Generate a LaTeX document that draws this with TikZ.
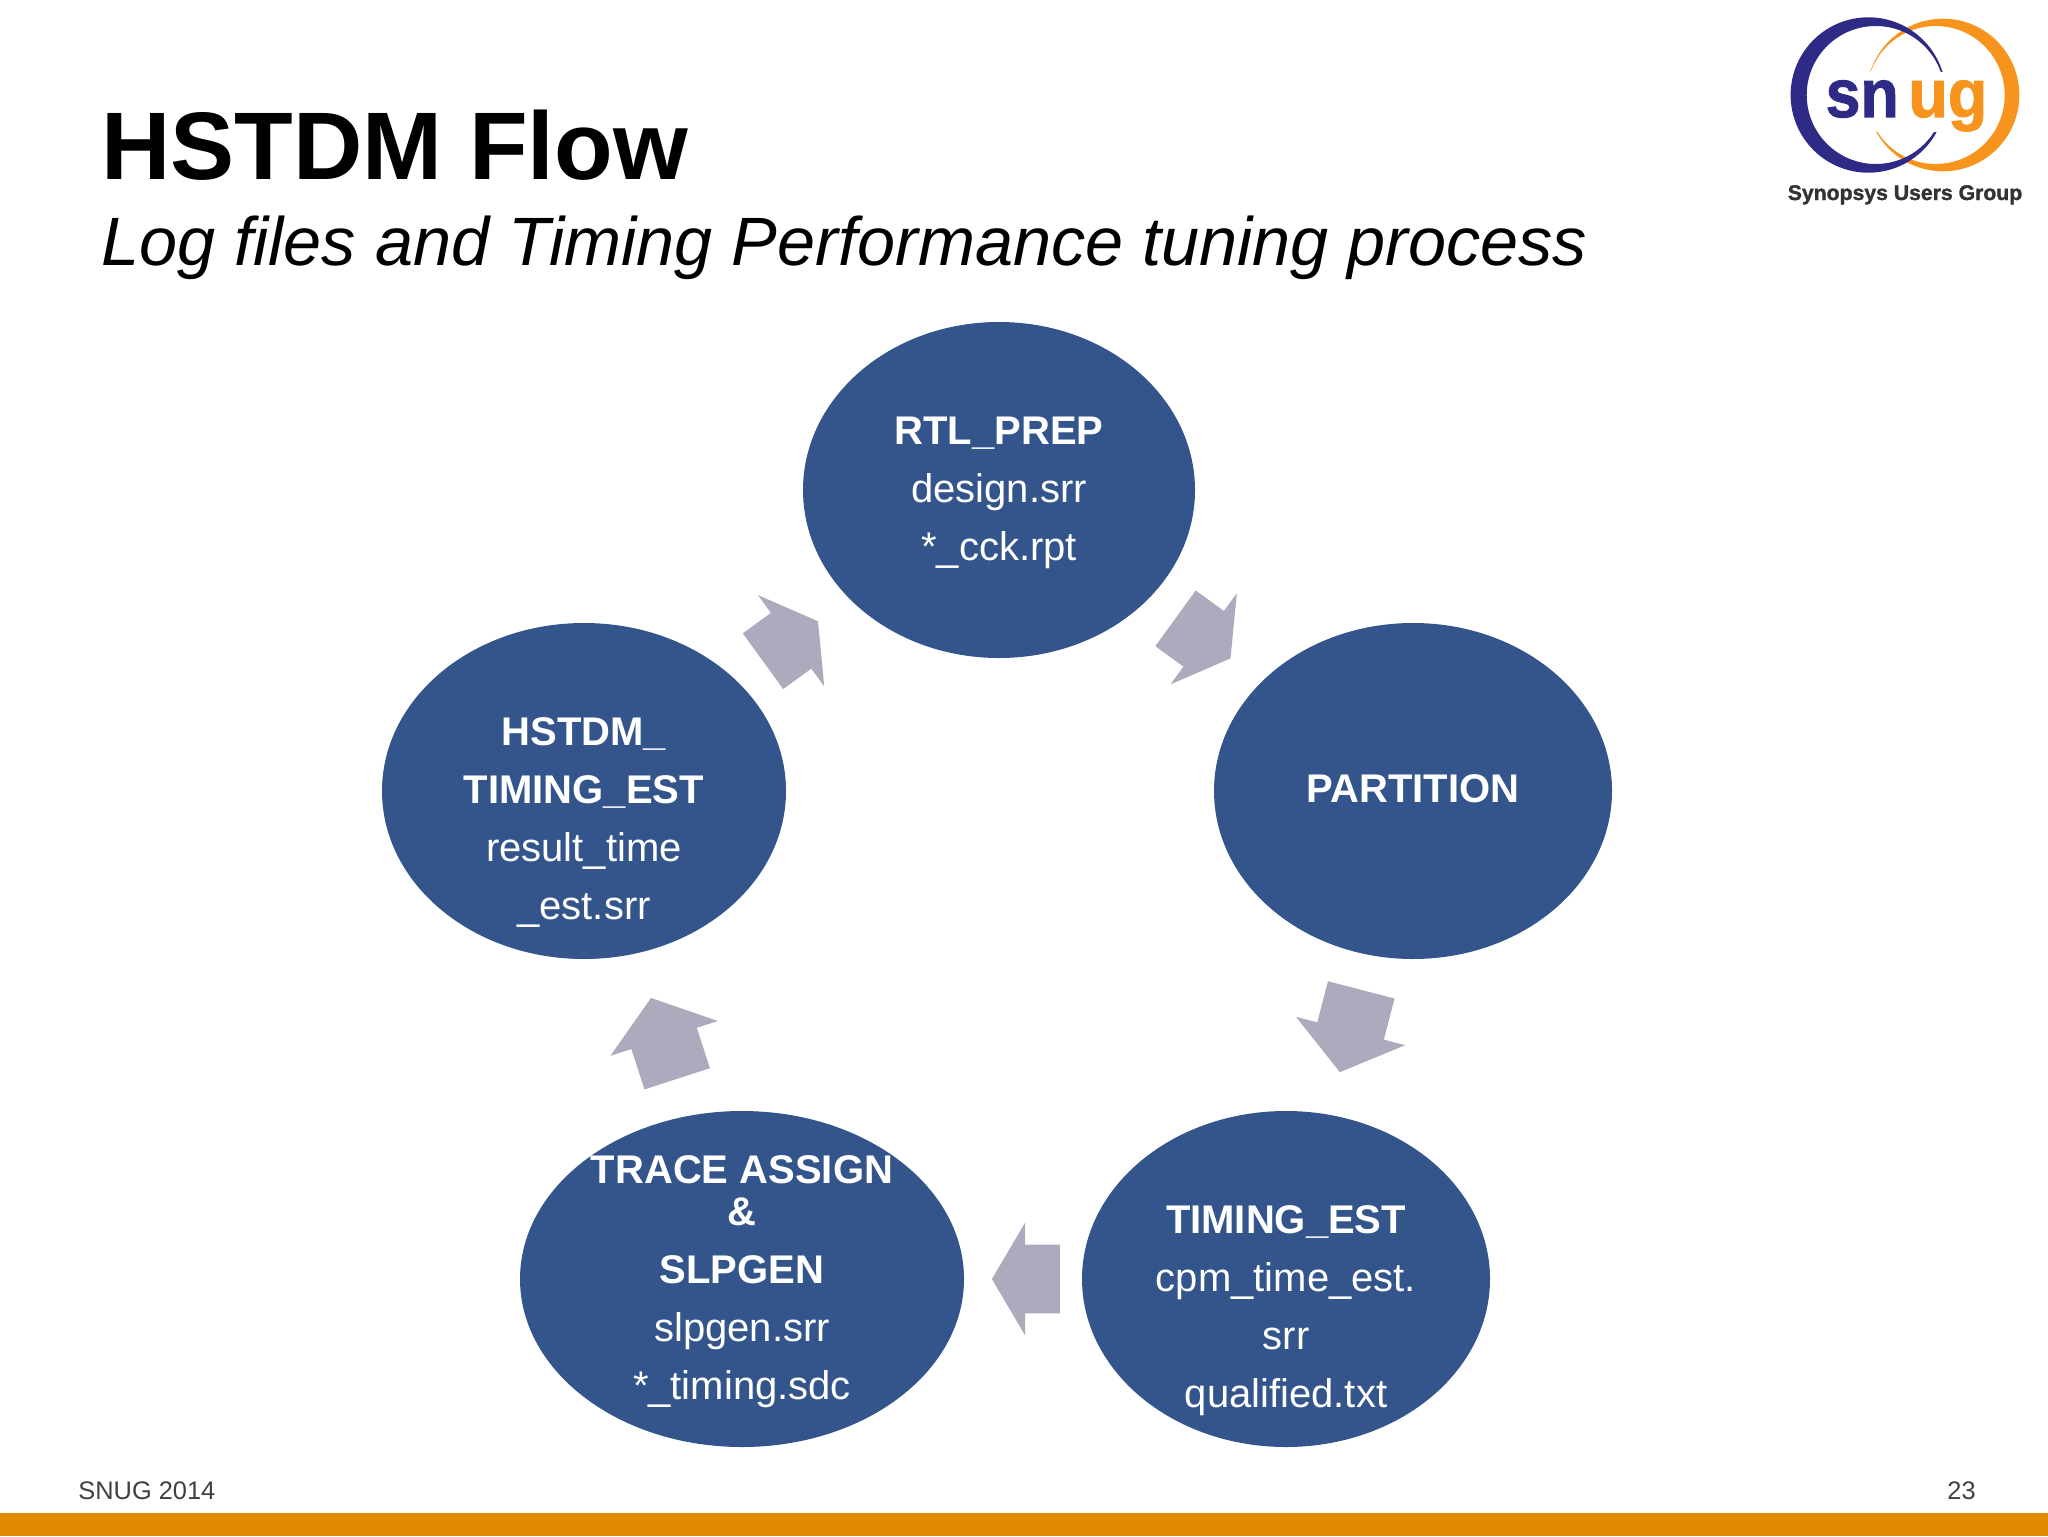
\documentclass[tikz,border=0pt]{standalone}
\usepackage{fontspec}
\setmainfont{Liberation Sans}
\newfontfamily\snugfont[UprightFont=* Bold,FakeBold=1.5]{Liberation Sans}
\usetikzlibrary{shapes.geometric,shapes.arrows}
\definecolor{flowblue}{HTML}{33558B}
\definecolor{flowgrey}{HTML}{ACABBD}
\definecolor{barorange}{HTML}{DF8A00}
\definecolor{snugblue}{HTML}{2E2A85}
\definecolor{snugorange}{HTML}{F7941E}
\tikzset{
	flowellipse/.style={ellipse, fill=flowblue, inner sep=0pt, minimum height=168pt},
	flowtext/.style={text=white, align=center, inner sep=0pt, yshift=-1.3pt, font=\fontsize{20}{28.9}\selectfont},
	flowarrow/.style={single arrow, fill=flowgrey, inner xsep=0pt, inner ysep=17pt, sloped, allow upside down,
		xshift=-6.5pt, minimum height=34pt, single arrow head extend=11pt,
		single arrow tip angle=119, single arrow head indent=0pt},
	longarrow/.style={flowarrow, xshift=-2pt, minimum height=42.5pt, single arrow tip angle=106},
}
\begin{document}
\begin{tikzpicture}[x=0.5pt,y=-0.5pt]
\useasboundingbox (0,0) rectangle (2048,1536);
\fill[barorange] (0,1513) rectangle (2048,1536);

\node[anchor=base west, inner sep=0pt, font=\fontsize{48}{50}\selectfont\bfseries] (title) at (101,179.5) {HSTDM Flow};
\node[anchor=base west, inner sep=0pt, font=\fontsize{34.2}{36}\selectfont\itshape] (subtitle) at (101,265) {Log files and Timing Performance tuning process};
\node[anchor=base west, inner sep=0pt, text=black!75, font=\fontsize{12.7}{13}\selectfont] (footer) at (78,1499) {SNUG 2014};
\node[anchor=base east, inner sep=0pt, text=black!75, font=\fontsize{12.7}{13}\selectfont] (pagenum) at (1976,1499) {23};

% logo
\fill[snugorange, even odd rule] (1943,95) circle [radius=76.3] (1935.7,95) circle [radius=69];
\fill[snugblue, even odd rule] (1868.3,95) circle [radius=77.7] (1875.7,95) circle [radius=69];
\fill[white] (1863,72) rectangle (1947,132);
\node[anchor=base east, inner sep=0pt, xscale=.92, text=snugblue, font=\fontsize{34}{36}\snugfont] (snugleft) at (1899,117) {sn};
\node[anchor=base west, inner sep=0pt, xscale=.95, text=snugorange, font=\fontsize{34}{36}\snugfont] (snugright) at (1908,117) {ug};
\node[anchor=base, inner sep=0pt, text=black!80, font=\fontsize{10.6}{11}\snugfont] (snugname) at (1905,200) {Synopsys Users Group};

% flow
\node[flowellipse, minimum width=196pt] (rtl) at (999,490) {};
\node[flowellipse, minimum width=199pt] (partition) at (1413,791) {};
\node[flowellipse, minimum width=204pt] (timing) at (1286,1279) {};
\node[flowellipse, minimum width=222pt] (trace) at (742,1279) {};
\node[flowellipse, minimum width=202pt] (hstdm) at (584,791) {};

\node[flowtext] (rtltext) at (rtl) {\textbf{RTL\_PREP}\\design.srr\\{}*\_cck.rpt};
\node[flowtext, yshift=2.3pt] (partitiontext) at (partition) {\textbf{PARTITION}};
\node[flowtext, yshift=-14.5pt] (timingtext) at (timing) {\textbf{TIMING\_EST}\\cpm\_time\_est.\\srr\\qualified.txt};
\node[flowtext] (tracetext) at (trace) {\textbf{TRACE ASSIGN}\\[-8pt]\textbf{\&}\\\textbf{SLPGEN}\\slpgen.srr\\{}*\_timing.sdc};
\node[flowtext, yshift=-14.5pt] (hstdmtext) at (hstdm) {\textbf{HSTDM\_}\\\textbf{TIMING\_EST}\\result\_time\\\_est.srr};

\path (rtl) -- node[flowarrow] (arrowa) {} (partition);
\path (partition) -- node[longarrow] (arrowb) {} (timing);
\path (timing) -- node[flowarrow] (arrowc) {} (trace);
\path (trace) -- node[longarrow] (arrowd) {} (hstdm);
\path (hstdm) -- node[flowarrow] (arrowe) {} (rtl);
\end{tikzpicture}
\end{document}
